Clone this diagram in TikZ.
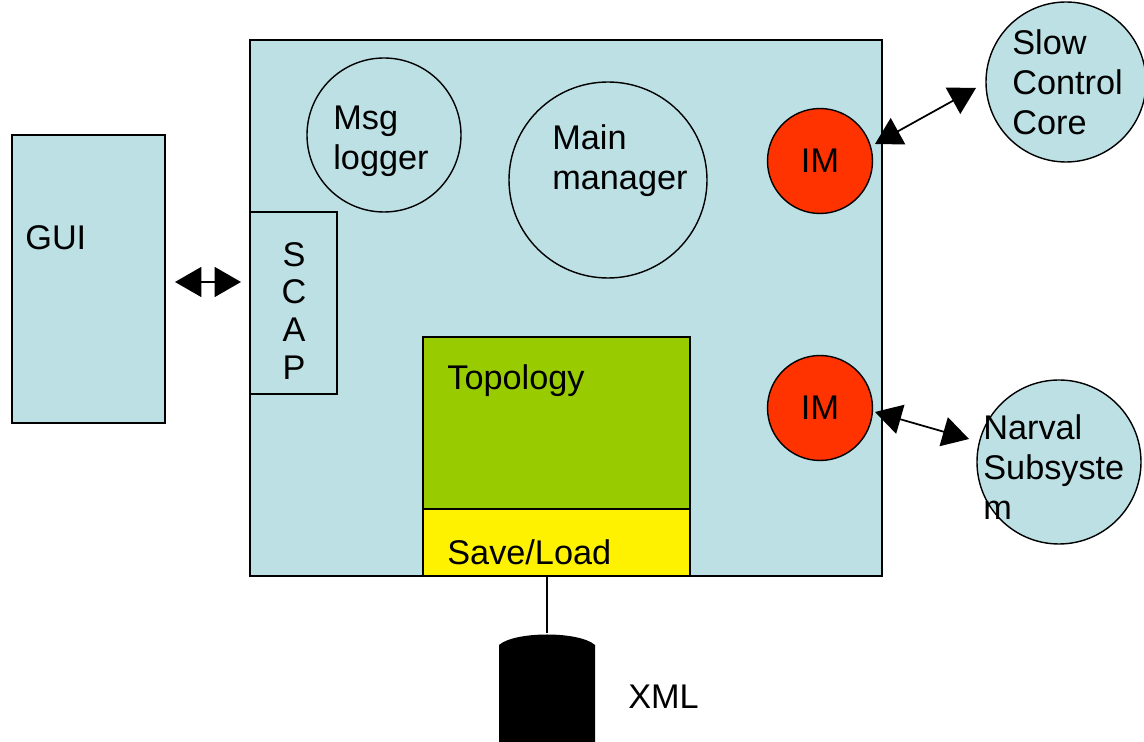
\documentclass[tikz,border=0pt]{standalone}
\usepackage{fontspec}
\setmainfont{Liberation Sans}
\usetikzlibrary{arrows.meta}
\definecolor{paleblue}{HTML}{BCE0E4}
\definecolor{imred}{HTML}{FF3300}
\definecolor{topogreen}{HTML}{99CC00}
\tikzset{
  px/.style={x=0.02cm,y=-0.02cm},
  box/.style={draw=black,line width=0.8pt,fill=paleblue},
  lbl/.style={font=\fontsize{19.5}{22.7}\selectfont,align=left,inner sep=0pt},
  im/.style={draw=black,line width=0.8pt,fill=imred,circle,minimum size=2.1cm,inner sep=0pt,font=\fontsize{19.5}{22.7}\selectfont},
  link/.style={line width=1pt,{Triangle[length=15pt,width=17pt]}-{Triangle[length=15pt,width=17pt]}}
}
\begin{document}
\begin{tikzpicture}[px]
\useasboundingbox (0,0) rectangle (1144,742);
% main application frame
\draw[box] (250,40) rectangle (882,576);
% GUI panel
\draw[box] (12,135) rectangle (165,423);
\node[lbl,anchor=west] (gui) at (25,238) {GUI};
\coordinate (guiR) at (175,282);
% SCAP interface
\draw[box] (250,212) rectangle (337,394);
\node[lbl,align=center,anchor=center,font=\fontsize{19.5}{21.6}\selectfont] (scap) at (294,311) {S\\C\\A\\P};
\coordinate (scapL) at (241,282);
% logger and manager
\draw[box] (384,135) circle [radius=77];
\node[lbl,anchor=west] (msg) at (333,141) {Msg\\logger};
\draw[box] (608,180) ellipse [x radius=99, y radius=98];
\node[lbl,anchor=west] (mgr) at (552,161) {Main\\manager};
% interface modules
\node[im] (im1) at (820,161) {IM};
\node[im] (im2) at (820,408) {IM};
\coordinate (im1R) at (875,144);
\coordinate (im2R) at (875,412);
% topology block
\draw[draw=black,line width=0.8pt,fill=topogreen] (423,337) rectangle (690,509);
\node[lbl,anchor=west] (topo) at (447,381) {Topology};
\draw[draw=black,line width=0.8pt,fill=yellow] (423,509) rectangle (690,576);
\node[lbl,anchor=west] (save) at (447,552) {Save/Load};
\coordinate (saveB) at (547,576);
% external subsystems
\draw[box] (1066,82) circle [radius=80];
\node[lbl,anchor=west] (slow) at (1012,82) {Slow\\Control\\Core};
\draw[box] (1059,462) circle [radius=82];
\node[lbl,anchor=west] (narval) at (983,467) {Narval\\Subsyste\\m};
\coordinate (slowL) at (976,88);
\coordinate (narvalL) at (969,439);
% XML storage drum
\coordinate (xml) at (547,633);
\fill[black] (499,645) .. controls (515,631) and (579,631) .. (595,645)
  -- (595,742) -- (499,742) -- cycle;
\node[lbl,anchor=west] (xmltxt) at (628,697) {XML};
% connectors
\draw[link] (guiR) -- (scapL);
\draw[link] (im1R) -- (slowL);
\draw[link] (im2R) -- (narvalL);
\draw[line width=1pt] (saveB) -- (xml);
\end{tikzpicture}
\end{document}
